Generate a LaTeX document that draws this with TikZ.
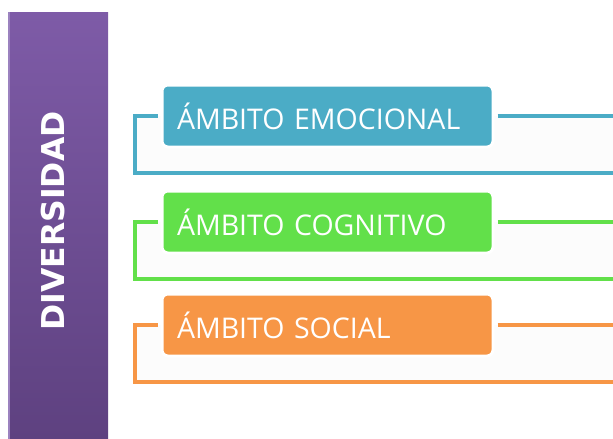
\documentclass[tikz,border=0pt]{standalone}
\usepackage{fontspec}
\setmainfont{Open Sans}
\newfontfamily\titulofont{DejaVu Sans}
\usepackage{xcolor}
\usetikzlibrary{calc}

\definecolor{diverTop}{HTML}{7E5BA7}
\definecolor{diverBot}{HTML}{5E4180}
\definecolor{diverEdge}{HTML}{9B82BF}
\definecolor{ambBlue}{HTML}{4BACC6}
\definecolor{ambGreen}{HTML}{62E04A}
\definecolor{ambOrange}{HTML}{F79646}
\definecolor{fondoMarco}{HTML}{FCFCFC}

\begin{document}
\begin{tikzpicture}
    [x=1pt, y=-1pt,
     ambito/.style={rectangle, rounded corners=6pt, draw=white, line width=3pt, inner xsep=15pt, text width=301pt, align=left, minimum height=62pt, text=white, font=\fontsize{28.5}{30}\selectfont},
     marco/.style={line width=4pt, shorten <=3pt}]
    \useasboundingbox (0,0) rectangle (613,439);
    % barra lateral
    \shade[top color=diverTop, bottom color=diverBot] (8,12) rectangle (108,439);
    \draw[diverEdge, line width=1.5pt] (8.75,12) -- (8.75,439);
    \node(diversidad)[rotate=90, text=white, font=\titulofont\bfseries\fontsize{31.5}{33}\selectfont] at (53,221) {DIVERSIDAD};
    \foreach \n/\y/\c/\t in {emocional/116/ambBlue/ÁMBITO EMOCIONAL,cognitivo/222/ambGreen/ÁMBITO COGNITIVO,social/325/ambOrange/ÁMBITO SOCIAL}{
        \fill[fondoMarco] (135,\y) rectangle (613,{\y+57});
        \node(\n)[ambito, fill=\c] at (327.5,\y) {\t};
        \coordinate(\n-esq) at (135,\y);
        \coordinate(\n-inf) at (135,{\y+57});
        \coordinate(\n-fin) at (616,{\y+57});
        \coordinate(\n-der) at (616,\y);
        \draw[marco, \c] (\n.west) -- (\n-esq) -- (\n-inf) -- (\n-fin);
        \draw[marco, \c] (\n.east) -- (\n-der);
    }
\end{tikzpicture}
\end{document}
